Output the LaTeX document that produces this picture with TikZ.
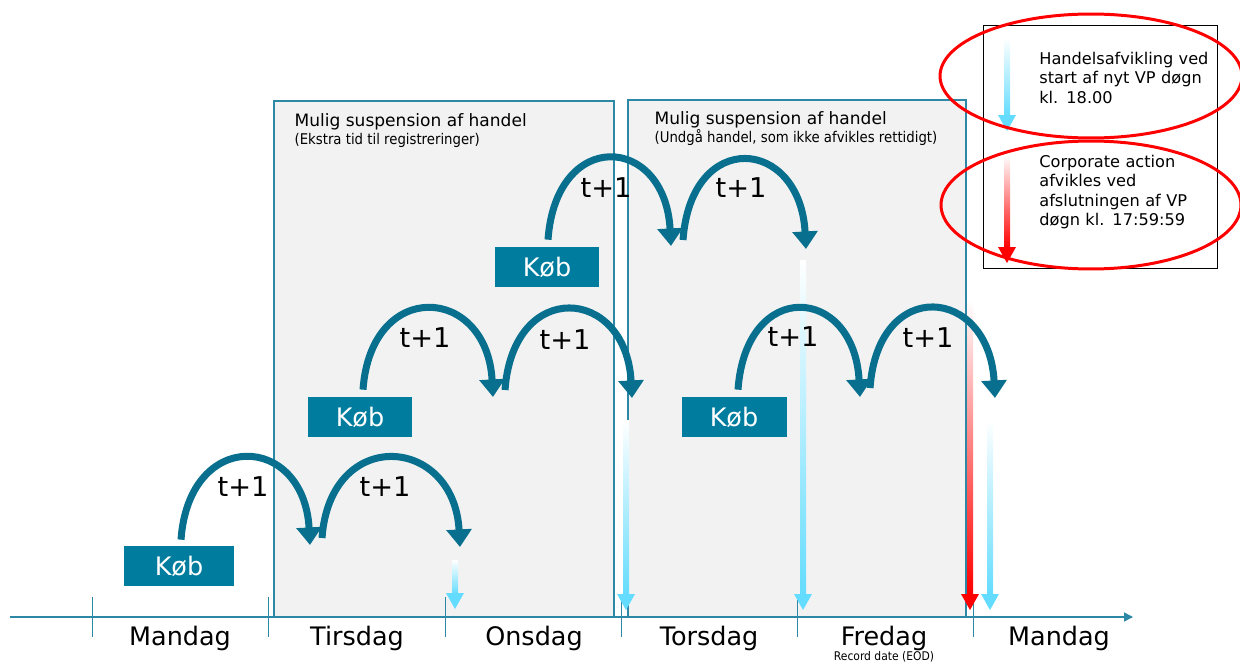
\documentclass[tikz,border=0pt]{standalone}
\usepackage{fontspec}
\setmainfont{DejaVu Sans}
\newfontfamily\condfont{DejaVu Sans Condensed}
\usetikzlibrary{shapes.geometric, arrows.meta, positioning, fit}
\definecolor{kobteal}{RGB}{0,125,158}
\definecolor{hopteal}{RGB}{8,112,142}
\definecolor{lineteal}{RGB}{45,136,166}
\definecolor{boxgray}{RGB}{242,242,242}
\definecolor{settleblue}{RGB}{100,220,255}
\definecolor{carred}{RGB}{255,0,0}
\tikzset{
    suspbox/.style={rectangle, fill=boxgray, draw=lineteal, thick, inner sep=0pt},
    kobbox/.style={rectangle, fill=kobteal, text=white, minimum width=2.1cm, minimum height=0.8cm, inner sep=0pt, font=\fontsize{14.5}{16}\selectfont},
    hop/.style={-{Triangle[length=10pt, width=14pt]}, line width=4pt, hopteal},
    tlabel/.style={font=\fontsize{15.5}{17}\selectfont, inner sep=0pt},
    daylabel/.style={font=\fontsize{14.5}{16}\selectfont, inner sep=0pt, anchor=north},
    headtext/.style={anchor=west, inner sep=0pt, font=\fontsize{9.7}{11}\selectfont},
    subtext/.style={anchor=west, inner sep=0pt, font=\condfont\fontsize{8.4}{9}\selectfont},
    legendtext/.style={anchor=north west, inner sep=0pt, text width=3.4cm, align=left, font=\fontsize{9.2}{11}\selectfont},
    ring/.style={ellipse, draw=carred, line width=1.7pt, inner sep=0pt},
}
% shaded settlement arrow: x, top, tip, colour
\newcommand{\settlearrow}[4]{%
    \shade[top color=white, middle color=#4!65, bottom color=#4] (#1-3,#2) rectangle (#1+3,#3-15);
    \fill[#4] (#1-9,#3-16) -- (#1+9,#3-16) -- (#1,#3) -- cycle;
}

\begin{document}
\begin{tikzpicture}[x=0.02cm, y=-0.02cm]
\useasboundingbox (0,0) rectangle (1240,663);

% Suspension boxes
\node[suspbox, fit={(274,101)(614,617)}] (susp1) {};
\node[suspbox, fit={(628,100)(966,617)}] (susp2) {};
\node[headtext] (susp1-head) at ([xshift=0.42cm, yshift=-0.44cm]susp1.north west) {Mulig suspension af handel};
\node[subtext, below=0.2cm of susp1-head.south west, anchor=west] (susp1-sub) {(Ekstra tid til registreringer)};
\node[headtext] (susp2-head) at ([xshift=0.54cm, yshift=-0.42cm]susp2.north west) {Mulig suspension af handel};
\node[subtext, below=0.18cm of susp2-head.south west, anchor=west] (susp2-sub) {(Undgå handel, som ikke afvikles rettidigt)};

% Timeline
\coordinate (tl-start) at (10,617);
\coordinate (tl-end) at (1133,617);
\draw[lineteal, thick, -{Triangle[length=5pt, width=5pt]}] (tl-start) -- (tl-end);
\foreach \x in {92,268,445,621,797,973}
    \draw[lineteal] (\x,597) -- (\x,637);
\foreach \x/\d/\n in {180/Mandag/mon1, 357/Tirsdag/tue, 534/Onsdag/wed, 709/Torsdag/thu, 884/Fredag/fri, 1059/Mandag/mon2}
    \node[daylabel] (\n) at (\x,626) {\d};
\node[font=\condfont\fontsize{6.8}{7}\selectfont, inner sep=0pt, anchor=south] (record) at (884,662) {Record date (EOD)};

% Settlement arrows
\settlearrow{455}{560}{609}{settleblue}
\settlearrow{626}{420}{610}{settleblue}
\settlearrow{803}{260}{610}{settleblue}
\settlearrow{970}{300}{610}{carred}
\settlearrow{990}{420}{610}{settleblue}

% Buy boxes
\node[kobbox, minimum width=2.2cm] (koeb1) at (179,566) {Køb};
\node[kobbox] (koeb2) at (360,417) {Køb};
\node[kobbox] (koeb3) at (547,267) {Køb};
\node[kobbox] (koeb4) at (734,417) {Køb};

% Hops
\coordinate (h1a) at (310,545);
\coordinate (h1b) at (322,538);
\coordinate (h1c) at (460,547);
\draw[hop] ([xshift=0.04cm, yshift=0.12cm]koeb1.north) .. controls +(8,-112) and +(-6,-112) .. (h1a);
\draw[hop] (h1b) .. controls +(8,-112) and +(-6,-112) .. (h1c);
\node[tlabel] (t1a) at (243,487) {t+1};
\node[tlabel] (t1b) at (385,487) {t+1};

\coordinate (h2a) at (493,397);
\coordinate (h2b) at (505,390);
\coordinate (h2c) at (632,398);
\draw[hop] ([xshift=0.06cm, yshift=0.14cm]koeb2.north) .. controls +(8,-112) and +(-6,-112) .. (h2a);
\draw[hop] (h2b) .. controls +(8,-112) and +(-6,-112) .. (h2c);
\node[tlabel] (t2a) at (425,338) {t+1};
\node[tlabel] (t2b) at (565,340) {t+1};

\coordinate (h3a) at (671,246);
\coordinate (h3b) at (683,240);
\coordinate (h3c) at (806,249);
\draw[hop] ([xshift=0.02cm, yshift=0.14cm]koeb3.north) .. controls +(8,-112) and +(-6,-112) .. (h3a);
\draw[hop] (h3b) .. controls +(8,-112) and +(-6,-112) .. (h3c);
\node[tlabel] (t3a) at (606,188) {t+1};
\node[tlabel] (t3b) at (741,188) {t+1};

\coordinate (h4a) at (860,397);
\coordinate (h4b) at (870,388);
\coordinate (h4c) at (995,398);
\draw[hop] ([xshift=0.08cm, yshift=0.14cm]koeb4.north) .. controls +(8,-112) and +(-6,-112) .. (h4a);
\draw[hop] (h4b) .. controls +(8,-112) and +(-6,-112) .. (h4c);
\node[tlabel] (t4a) at (793,337) {t+1};
\node[tlabel] (t4b) at (928,338) {t+1};

% Legend
\node[draw=black, fit={(983,25)(1217,268)}, inner sep=0pt] (legend) {};
\settlearrow{1007}{38}{131}{settleblue}
\settlearrow{1007}{155}{263}{carred}
\node[legendtext] (leg-trade) at (1039,52) {Handelsafvikling ved\\start af nyt VP døgn\\kl. 18.00};
\node[legendtext] (leg-ca) at (1039,155) {Corporate action\\afvikles ved\\afslutningen af VP\\døgn kl. 17:59:59};
\node[ring, minimum width=6.04cm, minimum height=2.48cm] (ring1) at (1091,76) {};
\node[ring, minimum width=6.0cm, minimum height=2.56cm] (ring2) at (1091,205) {};

\end{tikzpicture}
\end{document}
